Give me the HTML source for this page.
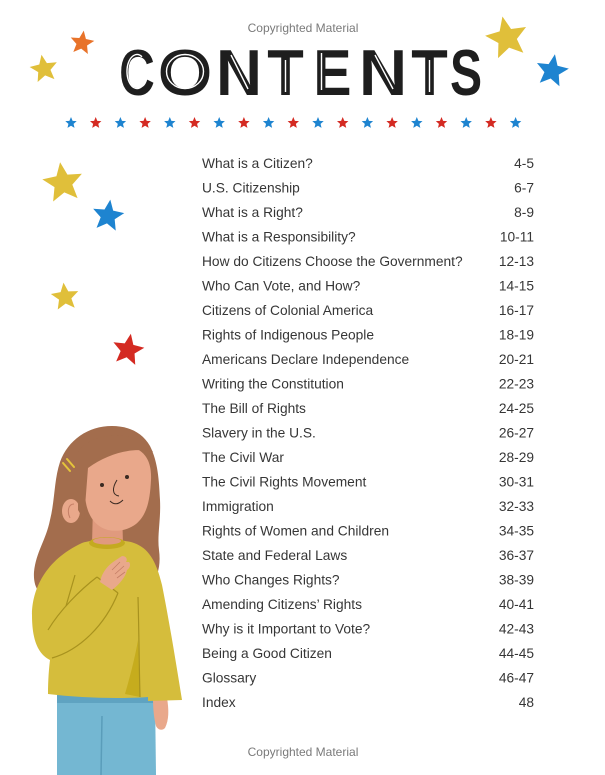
<!DOCTYPE html>
<html>
<head>
<meta charset="utf-8">
<style>
  html,body{margin:0;padding:0;background:#fff;}
  body{width:605px;height:775px;overflow:hidden;}
  svg{display:block;}
  .toc{font-family:"Liberation Sans",sans-serif;font-size:13.75px;fill:#363636;}
  .cm{font-family:"Liberation Sans",sans-serif;font-size:12px;fill:#7a7a7a;}
  .title{font-family:"Liberation Sans",sans-serif;font-weight:bold;font-size:65px;fill:#1e1e1e;}
</style>
</head>
<body>
<svg width="605" height="775" viewBox="0 0 605 775" xmlns="http://www.w3.org/2000/svg">
  <defs>
    <polygon id="st" points="0,-1 0.265,-0.364 0.951,-0.309 0.428,0.139 0.588,0.809 0,0.45 -0.588,0.809 -0.428,0.139 -0.951,-0.309 -0.265,-0.364"/>
  </defs>
  <rect width="605" height="775" fill="#fff"/>

  <!-- Copyrighted top -->
  <text class="cm" x="303" y="32" text-anchor="middle">Copyrighted Material</text>

  <!-- big decorative stars -->
  <use href="#st" transform="translate(82,43) scale(12.5) rotate(8)" fill="#E8732A"/>
  <use href="#st" transform="translate(44,69) scale(14.5) rotate(-10)" fill="#E0BF3A"/>
  <use href="#st" transform="translate(507,38) scale(22) rotate(-12)" fill="#E0BF3A"/>
  <use href="#st" transform="translate(552,71) scale(17) rotate(10)" fill="#1E84D0"/>
  <use href="#st" transform="translate(63,183) scale(21) rotate(-8)" fill="#E0BF3A"/>
  <use href="#st" transform="translate(108,216) scale(16.5) rotate(8)" fill="#1E84D0"/>
  <use href="#st" transform="translate(65,297) scale(14.5) rotate(-6)" fill="#E0BF3A"/>
  <use href="#st" transform="translate(128,350) scale(16.5) rotate(10)" fill="#D42A22"/>

  <!-- CONTENTS title -->
  <g class="title">
    <text transform="translate(137,95) scale(0.76,1)" text-anchor="middle">C</text>
    <text transform="translate(185,95) scale(1.08,1)" text-anchor="middle">O</text>
    <text transform="translate(239,95) scale(0.98,1)" text-anchor="middle">N</text>
    <text transform="translate(285.5,95) scale(0.92,1)" text-anchor="middle">T</text>
    <text transform="translate(332.5,95) scale(0.88,1)" text-anchor="middle">E</text>
    <text transform="translate(383,95) scale(1.03,1)" text-anchor="middle">N</text>
    <text transform="translate(429.5,95) scale(0.92,1)" text-anchor="middle">T</text>
    <text transform="translate(466,95) scale(0.74,1)" text-anchor="middle">S</text>
  </g>
  <!-- inline white accents on title -->
  <g stroke="#fff" stroke-width="1.4" fill="none">
    <path d="M142,56.8 A10,17 0 1 0 142,86.2"/>
    <ellipse cx="185" cy="71.5" rx="18.5" ry="17"/>
    <path d="M231,55 L248,89"/>
    <path d="M375,55 L393,89"/>
    <path d="M285.5,60 L285.5,92"/>
    <path d="M429.5,60 L429.5,92"/>
    <path d="M321.5,53 L321.5,90"/>
  </g>

  <!-- star row -->
  <g>
    <use href="#st" transform="translate(71,123) scale(6)" fill="#1E84D0"/>
    <use href="#st" transform="translate(95.7,123) scale(6)" fill="#D42A22"/>
    <use href="#st" transform="translate(120.4,123) scale(6)" fill="#1E84D0"/>
    <use href="#st" transform="translate(145.1,123) scale(6)" fill="#D42A22"/>
    <use href="#st" transform="translate(169.8,123) scale(6)" fill="#1E84D0"/>
    <use href="#st" transform="translate(194.5,123) scale(6)" fill="#D42A22"/>
    <use href="#st" transform="translate(219.2,123) scale(6)" fill="#1E84D0"/>
    <use href="#st" transform="translate(243.9,123) scale(6)" fill="#D42A22"/>
    <use href="#st" transform="translate(268.6,123) scale(6)" fill="#1E84D0"/>
    <use href="#st" transform="translate(293.3,123) scale(6)" fill="#D42A22"/>
    <use href="#st" transform="translate(318,123) scale(6)" fill="#1E84D0"/>
    <use href="#st" transform="translate(342.7,123) scale(6)" fill="#D42A22"/>
    <use href="#st" transform="translate(367.4,123) scale(6)" fill="#1E84D0"/>
    <use href="#st" transform="translate(392.1,123) scale(6)" fill="#D42A22"/>
    <use href="#st" transform="translate(416.8,123) scale(6)" fill="#1E84D0"/>
    <use href="#st" transform="translate(441.5,123) scale(6)" fill="#D42A22"/>
    <use href="#st" transform="translate(466.2,123) scale(6)" fill="#1E84D0"/>
    <use href="#st" transform="translate(490.9,123) scale(6)" fill="#D42A22"/>
    <use href="#st" transform="translate(515.6,123) scale(6)" fill="#1E84D0"/>
  </g>

  <!-- TOC -->
  <g class="toc">
    <text x="202" y="168">What is a Citizen?</text><text x="534" y="168" text-anchor="end">4-5</text>
    <text x="202" y="192.5">U.S. Citizenship</text><text x="534" y="192.5" text-anchor="end">6-7</text>
    <text x="202" y="217">What is a Right?</text><text x="534" y="217" text-anchor="end">8-9</text>
    <text x="202" y="241.5">What is a Responsibility?</text><text x="534" y="241.5" text-anchor="end">10-11</text>
    <text x="202" y="266">How do Citizens Choose the Government?</text><text x="534" y="266" text-anchor="end">12-13</text>
    <text x="202" y="290.4">Who Can Vote, and How?</text><text x="534" y="290.4" text-anchor="end">14-15</text>
    <text x="202" y="314.9">Citizens of Colonial America</text><text x="534" y="314.9" text-anchor="end">16-17</text>
    <text x="202" y="339.4">Rights of Indigenous People</text><text x="534" y="339.4" text-anchor="end">18-19</text>
    <text x="202" y="363.9">Americans Declare Independence</text><text x="534" y="363.9" text-anchor="end">20-21</text>
    <text x="202" y="388.4">Writing the Constitution</text><text x="534" y="388.4" text-anchor="end">22-23</text>
    <text x="202" y="412.9">The Bill of Rights</text><text x="534" y="412.9" text-anchor="end">24-25</text>
    <text x="202" y="437.4">Slavery in the U.S.</text><text x="534" y="437.4" text-anchor="end">26-27</text>
    <text x="202" y="461.9">The Civil War</text><text x="534" y="461.9" text-anchor="end">28-29</text>
    <text x="202" y="486.4">The Civil Rights Movement</text><text x="534" y="486.4" text-anchor="end">30-31</text>
    <text x="202" y="510.9">Immigration</text><text x="534" y="510.9" text-anchor="end">32-33</text>
    <text x="202" y="535.4">Rights of Women and Children</text><text x="534" y="535.4" text-anchor="end">34-35</text>
    <text x="202" y="559.8">State and Federal Laws</text><text x="534" y="559.8" text-anchor="end">36-37</text>
    <text x="202" y="584.3">Who Changes Rights?</text><text x="534" y="584.3" text-anchor="end">38-39</text>
    <text x="202" y="608.8">Amending Citizens’ Rights</text><text x="534" y="608.8" text-anchor="end">40-41</text>
    <text x="202" y="633.3">Why is it Important to Vote?</text><text x="534" y="633.3" text-anchor="end">42-43</text>
    <text x="202" y="657.8">Being a Good Citizen</text><text x="534" y="657.8" text-anchor="end">44-45</text>
    <text x="202" y="682.3">Glossary</text><text x="534" y="682.3" text-anchor="end">46-47</text>
    <text x="202" y="706.8">Index</text><text x="534" y="706.8" text-anchor="end">48</text>
  </g>

  <!-- Girl illustration -->
  <g>
    <path d="M112,426 C88,426 68,440 60,462 C54,480 55,500 50,520 C46,540 36,552 34,572 C33,588 40,597 52,598 L90,590 L150,585 C158,578 161,565 159,550 C157,535 161,520 160,500 C159,480 158,462 150,446 C142,432 128,426 112,426 Z" fill="#A36D4D"/>
    <path d="M57,695 L155,695 L156,775 L57,775 Z" fill="#74B7D2"/>
    <rect x="57" y="695" width="98" height="8" fill="#5FA3C1"/>
    <path d="M102,716 L101,775" stroke="#5A9DBA" stroke-width="1.5" fill="none"/>
    <path d="M153,698 L167,698 C169,710 169,720 165,728 C162,731 158,730 156,726 C154,718 153,710 153,698 Z" fill="#E9A88B"/>
    <path d="M93,505 L122,505 L123,545 L92,545 Z" fill="#E09A7E"/>
    <path d="M82,543 C92,539 124,539 134,543 C148,548 156,560 162,585 C168,615 174,650 182,700 L148,701 L148,697 C120,699 80,698 48,694 C48,680 49,668 50,660 C38,654 32,640 32,615 C32,590 45,560 82,543 Z" fill="#D5BD3C"/>
    <path d="M125,694 C132,670 136,652 138,640 L140,697 Z" fill="#C6AC1D"/>
    <ellipse cx="107" cy="543" rx="18" ry="6" fill="#C4AA20"/>
    <ellipse cx="107" cy="541" rx="14" ry="3.5" fill="#E09A7E"/>
    <path d="M138,597 C139,630 139,660 140,697" stroke="#A8921E" stroke-width="1.2" fill="none"/>
    <path d="M48,630 C60,610 80,590 97,577" stroke="#A8921E" stroke-width="1.2" fill="none"/>
    <path d="M52,658 C80,650 105,625 118,593" stroke="#A8921E" stroke-width="1.2" fill="none"/>
    <path d="M97,577 L118,593" stroke="#A8921E" stroke-width="1.2" fill="none"/>
    <path d="M75,575 L66,606" stroke="#A8921E" stroke-width="1.2" fill="none"/>
    <path d="M100,582 C102,572 108,565 116,560 L122,556 C126,556 128,559 126,562 L129,562 C131,564 130,568 127,570 C126,576 120,584 112,590 Z" fill="#E9A88B"/>
    <path d="M112,570 L120,562 M115,574 L124,566 M117,578 L125,572" stroke="#C47E66" stroke-width="0.8" fill="none"/>
    <path d="M84,468 C84,452 100,446 122,446 C142,446 152,458 151,480 C150,500 147,515 136,524 C128,530 118,532 108,530 C93,526 86,512 85,495 Z" fill="#E9A88B"/>
    <ellipse cx="71" cy="511" rx="9" ry="12" fill="#E9A88B"/>
    <path d="M74,504 C68,504 67,512 70,518" stroke="#C47E66" stroke-width="1" fill="none"/>
    <path d="M78,452 C92,430 140,430 153,452 C135,447 110,452 88,468 L84,520 L78,510 Z" fill="#A36D4D"/>
    <path d="M63,463 L70,471 M67,459 L74,467" stroke="#E5C53A" stroke-width="2" stroke-linecap="round"/>
    <circle cx="102" cy="485" r="2" fill="#3a2a22"/>
    <circle cx="127" cy="477" r="2" fill="#3a2a22"/>
    <path d="M117,480 C112,488 112,495 119,496" stroke="#3a2a22" stroke-width="1" fill="none"/>
    <path d="M110,501 Q116,507 123,500" stroke="#3a2a22" stroke-width="1" fill="none"/>
  </g>

  <text class="cm" x="303" y="756" text-anchor="middle">Copyrighted Material</text>
</svg>
</body>
</html>
